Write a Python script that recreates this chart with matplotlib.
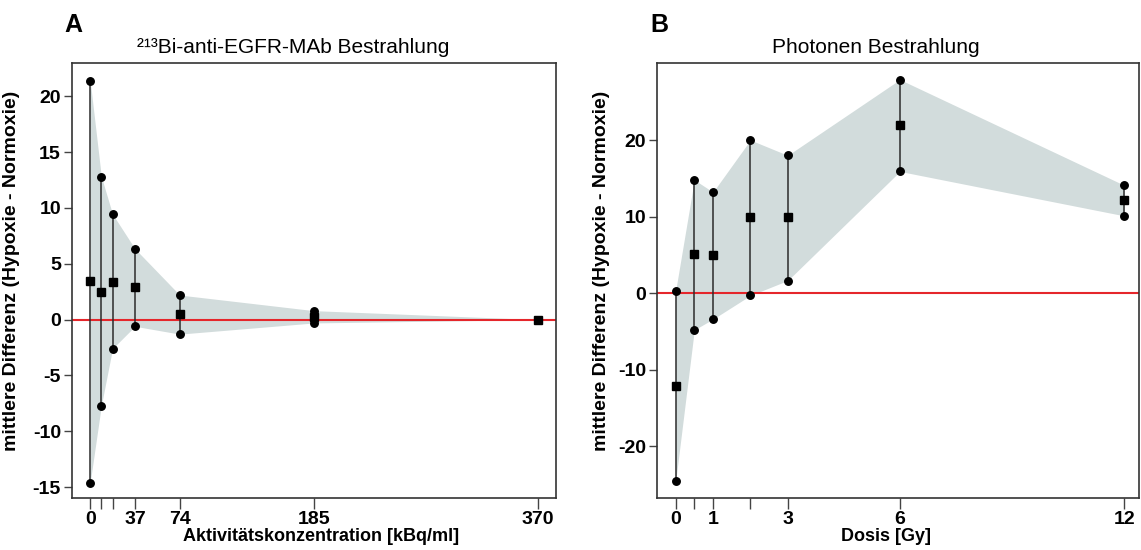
import matplotlib
matplotlib.use('Agg')
import matplotlib.pyplot as plt
import numpy as np

plt.rcParams['font.family'] = ['Liberation Sans', 'DejaVu Sans']

# Panel A: 213Bi-anti-EGFR-MAb
akt = [0, 9.25, 18.5, 37, 74, 185, 370]
a_mean = [3.5, 2.5, 3.4, 2.95, 0.5, 0.25, 0.0]
a_upper = [21.4, 12.8, 9.45, 6.35, 2.2, 0.8, 0.0]
a_lower = [-14.6, -7.7, -2.6, -0.6, -1.3, -0.3, 0.0]
a_ticks = [0, 37, 74, 185, 370]
a_minor = [9.25, 18.5]

# Panel B: Photonen
dosis = [0, 0.5, 1, 2, 3, 6, 12]
b_mean = [-12.1, 5.1, 5.0, 10.0, 10.0, 22.0, 12.2]
b_upper = [0.3, 14.8, 13.2, 20.0, 18.0, 27.9, 14.1]
b_lower = [-24.6, -4.8, -3.4, -0.3, 1.65, 15.9, 10.1]
b_ticks = [0, 1, 3, 6, 12]
b_minor = [0.5, 2]

ylab = 'mittlere Differenz (Hypoxie - Normoxie)'
band = '#d2dcdc'
dark = '#2b2b2b'

fig = plt.figure(figsize=(11.41, 5.5), dpi=100)
axA = fig.add_axes([0.0631, 0.094, 0.4242, 0.792])
axB = fig.add_axes([0.5761, 0.094, 0.4222, 0.792])


def panel(ax, x, mean, up, lo, ticks, minor, xlim, ylim, yticks, xlabel, title, letter,
          tx, lx, xx):
    ax.fill_between(x, lo, up, color=band, lw=0, zorder=1)
    ax.axhline(0, color='#e5262b', lw=1.5, zorder=2)
    ax.vlines(x, lo, up, color=dark, lw=1.1, zorder=3)
    ax.plot(x, up, 'o', color='black', ms=5.4, zorder=4)
    ax.plot(x, lo, 'o', color='black', ms=5.4, zorder=4)
    ax.plot(x, mean, 's', color='black', ms=5.4, zorder=5)
    ax.set_xlim(*xlim)
    ax.set_ylim(*ylim)
    ax.set_xticks(ticks)
    ax.set_xticklabels([str(t) for t in ticks])
    ax.set_xticks(minor, minor=True)
    ax.set_yticks(yticks)
    ax.set_yticklabels([str(t) for t in yticks])
    ax.tick_params(axis='x', which='both', length=8, width=1, color='#444444',
                   labelsize=14, pad=1)
    ax.tick_params(axis='y', length=6, width=1, color='#444444', labelsize=14, pad=2)
    for lab in ax.get_xticklabels() + ax.get_yticklabels():
        lab.set_fontweight('bold')
    for s in ax.spines.values():
        s.set_color('#333333')
        s.set_linewidth(1.2)
    ax.set_xlabel(xlabel, fontsize=13, fontweight='bold')
    ax.xaxis.set_label_coords(xx, -0.069)
    ax.xaxis.label.set_va('top')
    ax.set_ylabel(ylab, fontsize=14, fontweight='bold')
    ax.yaxis.set_label_coords(lx, 0.522)
    ax.set_title(title, fontsize=15, x=tx, pad=7)
    ax.text(-0.015, 1.058, letter, transform=ax.transAxes, fontsize=18,
            fontweight='bold', va='bottom', ha='left')


panel(axA, akt, a_mean, a_upper, a_lower, a_ticks, a_minor, (-15, 385), (-16, 23),
      [-15, -10, -5, 0, 5, 10, 15, 20], 'Aktivitätskonzentration [kBq/ml]',
      '²¹³Bi-anti-EGFR-MAb Bestrahlung', 'A', 0.457, -0.107, 0.515)
panel(axB, dosis, b_mean, b_upper, b_lower, b_ticks, b_minor, (-0.49, 12.4), (-26.8, 30.1),
      [-20, -10, 0, 10, 20], 'Dosis [Gy]', 'Photonen Bestrahlung', 'B', 0.454, -0.098, 0.474)

fig.savefig('out.png', dpi=100)
